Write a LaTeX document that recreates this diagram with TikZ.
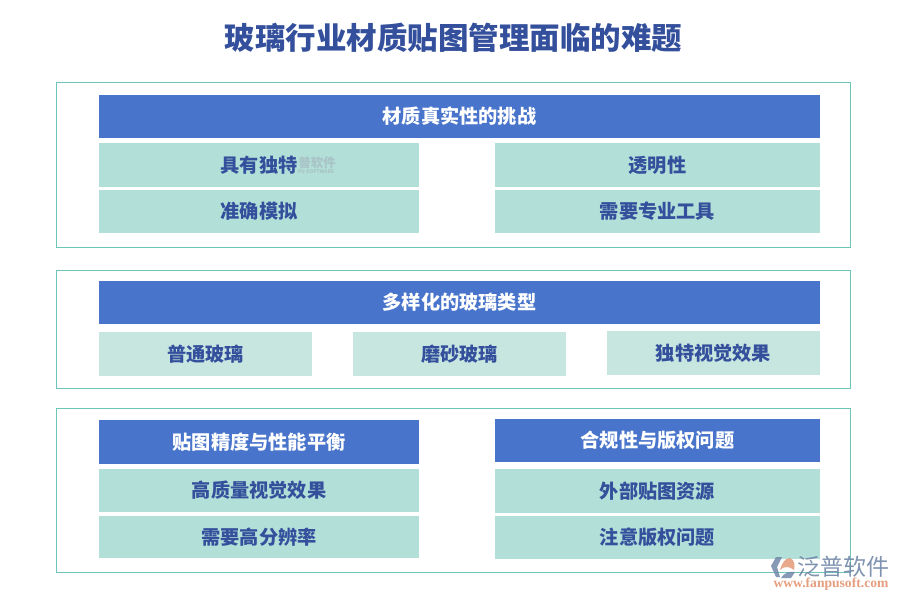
\documentclass[tikz,border=0pt]{standalone}
\usepackage{fontspec}
\usepackage{tikz}
\setmainfont{Noto Sans CJK SC}
\newfontfamily\urlfont{Liberation Serif}
\definecolor{FrameLine}{HTML}{6CC7B9}
\definecolor{HeadBlue}{HTML}{4874CB}
\definecolor{CellTeal}{HTML}{B2DFD8}
\definecolor{CellPale}{HTML}{C8E6E0}
\definecolor{TextBlue}{HTML}{34509C}
\definecolor{LogoGrey}{HTML}{7187A8}
\definecolor{LogoOrange}{HTML}{E59E7E}
\definecolor{MarkGrey}{HTML}{A9C3C6}

\begin{document}
\begin{tikzpicture}[x=1pt,y=-1pt,every node/.style={draw=none,inner sep=0pt,outer sep=0pt,anchor=north west},
  framebox/.style={draw=FrameLine,line width=1.1pt},
  headbox/.style={fill=HeadBlue,text=white,font=\fontsize{19.2}{19.2}\selectfont\bfseries},
  cellbox/.style={fill=CellTeal,text=TextBlue,font=\fontsize{19.2}{19.2}\selectfont\bfseries},
  palebox/.style={cellbox,fill=CellPale}]
  \useasboundingbox (0,0) rectangle (900,600);
  \node[font=\fontsize{30.5}{30.5}\selectfont\bfseries,text=TextBlue,anchor=center] (title) at (453.5,38) {玻璃行业材质贴图管理面临的难题};
  % outer frames
  \foreach \i/\py/\h in {1/82.5/165, 2/270.5/118, 3/408.5/164}{
    \node[framebox,minimum width=794pt,minimum height=\h pt] (f\i) at (56.5,\py) {};
  }
  % headers
  \foreach \i/\px/\py/\w/\h/\lab in {1/99/95/721/43/材质真实性的挑战, 2/99/281/721/43/多样化的玻璃类型, 3/99/420/320/44/贴图精度与性能平衡, 4/495/419/325/43/合规性与版权问题}{
    \node[headbox,minimum width=\w pt,minimum height=\h pt] (h\i) at (\px,\py) {\lab};
  }
  % cells
  \foreach \i/\px/\py/\w/\h/\lab in {1/99/143/320/44/具有独特, 2/495/143/325/44/透明性, 3/99/190/320/43/准确模拟, 4/495/190/325/43/需要专业工具, 5/99/469/320/43/高质量视觉效果, 6/99/516/320/42/需要高分辨率, 7/495/469/325/44/外部贴图资源, 8/495/516/325/43/注意版权问题}{
    \node[cellbox,minimum width=\w pt,minimum height=\h pt] (c\i) at (\px,\py) {\lab};
  }
  \foreach \i/\px/\py/\lab in {1/99/332/普通玻璃, 2/353/332/磨砂玻璃, 3/607/331/独特视觉效果}{
    \node[palebox,minimum width=213pt,minimum height=44pt] (p\i) at (\px,\py) {\lab};
  }
  % watermark
  \node[font=\fontsize{12.5}{12.5}\selectfont\bfseries,text=MarkGrey,anchor=center] (markcn) at (317,163) {普软件};
  \node[font=\fontsize{5}{5}\selectfont\bfseries,text=MarkGrey,anchor=center] (marken) at (316,172) {PU SOFTWARE};
  % logo
  \fill[LogoGrey,opacity=.85] (782,557) -- (776,557) -- (771,566) -- (776,577) -- (780,577) -- (777,567) -- cycle;
  \fill[LogoOrange,opacity=.9] (780,570) .. controls (782,563) and (785,558) .. (790,558) .. controls (795,560) and (795,566) .. (794,570) .. controls (789,566) and (784,566) .. (780,570) -- cycle;
  \fill[LogoGrey,opacity=.85] (781,578) .. controls (784,573) and (789,571) .. (795,572) -- (791,578) -- cycle;
  \node[font=\fontsize{23}{23}\selectfont,text=LogoGrey,anchor=center,opacity=.9] (brand) at (843,567) {泛普软件};
  \node[font=\urlfont\bfseries\fontsize{13.6}{13.6}\selectfont,text=LogoOrange,anchor=center] (site) at (831,584.5) {www.fanpusoft.com};
\end{tikzpicture}
\end{document}
